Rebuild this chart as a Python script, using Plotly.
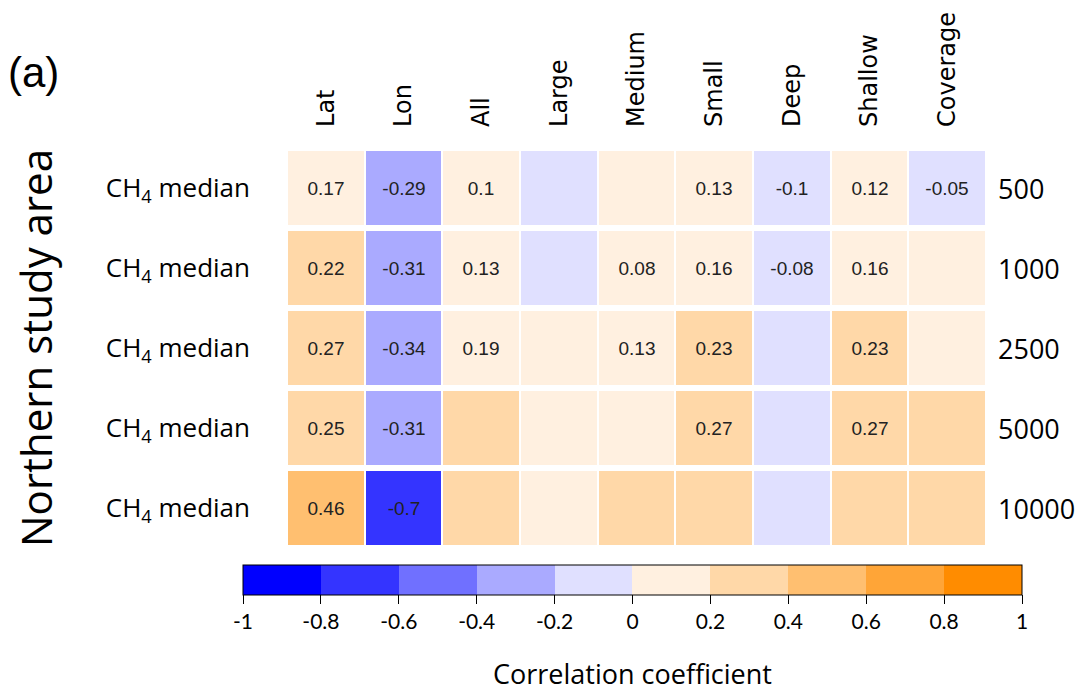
import plotly.graph_objects as go

columns = ["Lat", "Lon", "All", "Large", "Medium", "Small", "Deep", "Shallow", "Coverage"]
scales = ["500", "1000", "2500", "5000", "10000"]
row_label = "CH<sub>4</sub> median"

# correlation values (blank cells estimated from their colour bin)
r500 = [0.17, -0.29, 0.10, -0.05, 0.05, 0.13, -0.10, 0.12, -0.05]
r1000 = [0.22, -0.31, 0.13, -0.05, 0.08, 0.16, -0.08, 0.16, 0.05]
r2500 = [0.27, -0.34, 0.19, 0.05, 0.13, 0.23, -0.05, 0.23, 0.05]
r5000 = [0.25, -0.31, 0.25, 0.05, 0.05, 0.27, -0.05, 0.27, 0.25]
r10000 = [0.46, -0.70, 0.25, 0.05, 0.25, 0.25, -0.05, 0.25, 0.25]

# shown labels (significant correlations only)
t500 = ["0.17", "-0.29", "0.1", "", "", "0.13", "-0.1", "0.12", "-0.05"]
t1000 = ["0.22", "-0.31", "0.13", "", "0.08", "0.16", "-0.08", "0.16", ""]
t2500 = ["0.27", "-0.34", "0.19", "", "0.13", "0.23", "", "0.23", ""]
t5000 = ["0.25", "-0.31", "", "", "", "0.27", "", "0.27", ""]
t10000 = ["0.46", "-0.7", "", "", "", "", "", "", ""]

bin_edges = [-1, -0.8, -0.6, -0.4, -0.2, 0, 0.2, 0.4, 0.6, 0.8, 1]
bin_colors = ["#0000FF", "#3434FF", "#7070FF", "#AAAAFF", "#E0E0FF",
              "#FFF0E0", "#FFD8A8", "#FFBF70", "#FFA537", "#FF8C00"]
cb_ticks = [-1, -0.8, -0.6, -0.4, -0.2, 0, 0.2, 0.4, 0.6, 0.8, 1]
cb_ticktext = ["-1", "-0.8", "-0.6", "-0.4", "-0.2", "0", "0.2", "0.4", "0.6", "0.8", "1"]

z = [r500, r1000, r2500, r5000, r10000]
text = [t500, t1000, t2500, t5000, t10000]

colorscale = []
for i, c in enumerate(bin_colors):
    lo = (bin_edges[i] + 1) / 2
    hi = (bin_edges[i + 1] + 1) / 2
    colorscale.append([lo, c])
    colorscale.append([hi, c])

W, H = 1086, 693
L, R, T, B = 287, 100, 146, 145
PW, PH = W - L - R, H - T - B

def px_x(px):
    return (px - L) / PW

def px_y(py):
    return (H - B - py) / PH

fig = go.Figure(go.Heatmap(
    z=z, x=columns, y=list(range(len(scales))),
    text=text, texttemplate="%{text}",
    textfont=dict(family="Liberation Sans, Arial", size=19, color="#222222"),
    colorscale=colorscale, zmin=-1, zmax=1,
    xgap=2, ygap=6,
    colorbar=dict(
        orientation="h", xref="paper", yref="paper",
        x=px_x(632.5), xanchor="center", y=px_y(565), yanchor="top",
        xpad=0, ypad=0,
        lenmode="pixels", len=779, thickness=30,
        outlinewidth=1, outlinecolor="black",
        tickmode="array", tickvals=cb_ticks, ticktext=cb_ticktext,
        ticks="outside", ticklen=9, tickwidth=1, tickcolor="black",
        tickfont=dict(family="Lato, Open Sans", size=21, color="black"),
    ),
    hoverinfo="skip",
))

fig.update_xaxes(side="top", tickangle=-90, showgrid=False, zeroline=False,
                 showline=False, ticks="", ticklabelstandoff=20,
                 tickfont=dict(family="DejaVu Sans", size=24, color="black"))
fig.update_yaxes(autorange="reversed", showgrid=False, zeroline=False,
                 showline=False, ticks="", tickmode="array",
                 tickvals=list(range(len(scales))),
                 ticktext=[row_label] * len(scales), ticklabelstandoff=36,
                 tickfont=dict(family="Open Sans", size=26, color="black"))

annotations = []
for i, s in enumerate(scales):
    annotations.append(dict(text=s, xref="paper", yref="y", x=px_x(996), y=i,
                            xanchor="left", yanchor="middle", showarrow=False,
                            font=dict(family="Open Sans", size=27, color="black")))
annotations.append(dict(text="Northern study area", xref="paper", yref="paper",
                        x=px_x(35), y=px_y(347), textangle=-90,
                        xanchor="center", yanchor="middle", showarrow=False,
                        font=dict(family="Open Sans", size=42, color="black")))
annotations.append(dict(text="(a)", xref="paper", yref="paper",
                        x=px_x(6), y=px_y(70),
                        xanchor="left", yanchor="middle", showarrow=False,
                        font=dict(family="Liberation Sans Narrow, Liberation Sans", size=42, color="black")))
annotations.append(dict(text="Correlation coefficient", xref="paper", yref="paper",
                        x=px_x(632), y=px_y(674),
                        xanchor="center", yanchor="middle", showarrow=False,
                        font=dict(family="Open Sans", size=27, color="black")))

fig.update_layout(width=W, height=H, margin=dict(l=L, r=R, t=T, b=B),
                  paper_bgcolor="white", plot_bgcolor="white",
                  annotations=annotations)

fig.write_html("out.html")
